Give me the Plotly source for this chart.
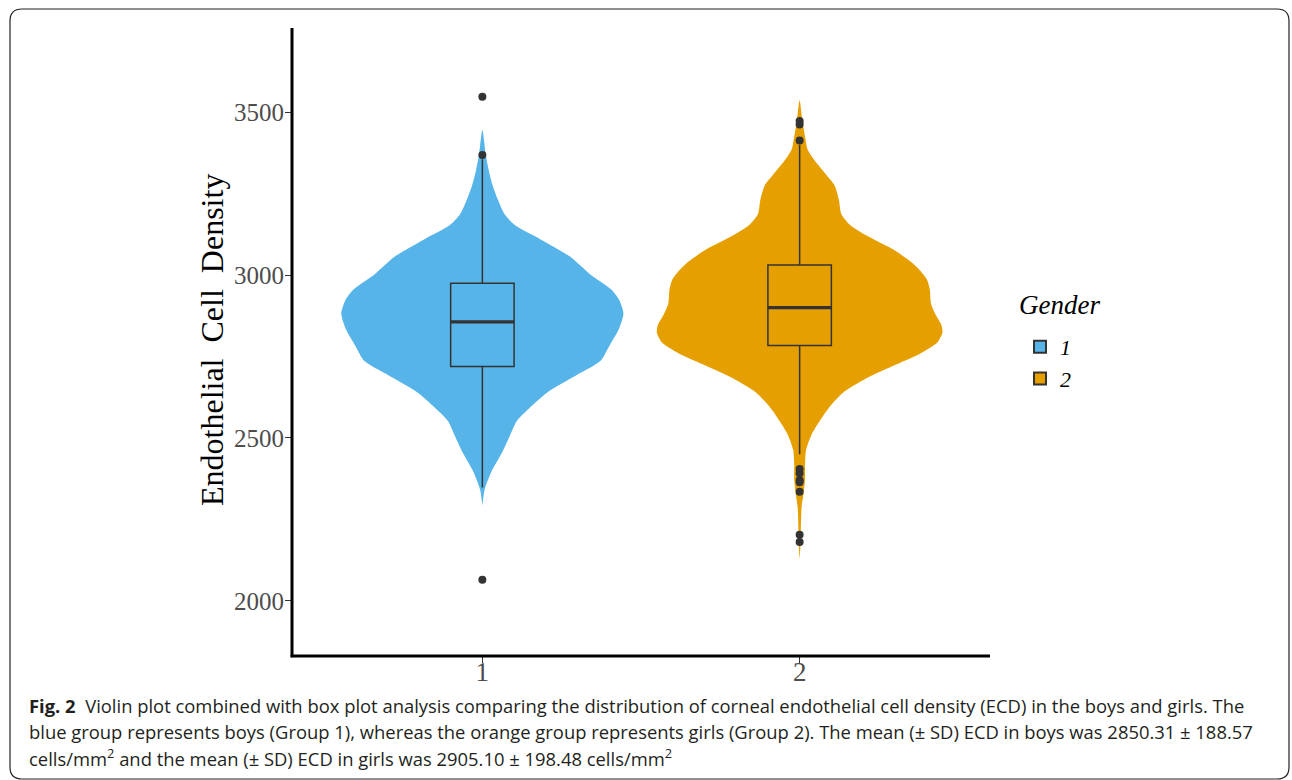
import plotly.graph_objects as go

# ---- data -------------------------------------------------------------
categories = ["1", "2"]
group_colors = ["#56B4E9", "#E69F00"]

# kernel-density outline per group: ECD levels and relative density (0..1)
violin1_levels = [3445, 3420, 3368, 3320, 3275, 3230, 3187, 3154, 3110, 3056, 3001,
                  2957, 2924, 2882, 2836, 2781, 2737, 2694, 2639, 2584, 2551, 2507,
                  2452, 2397, 2342, 2293]
violin1_density = [0.0, 0.01, 0.024, 0.045, 0.072, 0.11, 0.155, 0.225, 0.405, 0.616, 0.758,
                   0.899, 0.958, 0.988, 0.958, 0.887, 0.828, 0.664, 0.452, 0.311, 0.24, 0.193,
                   0.134, 0.064, 0.016, 0.0]

violin2_levels = [3536, 3473, 3420, 3385, 3352, 3308, 3275, 3231, 3187, 3154, 3121, 3078,
                  3034, 2990, 2957, 2913, 2880, 2847, 2823, 2792, 2759, 2726, 2683,
                  2639, 2595, 2551, 2507, 2463, 2419, 2375, 2331, 2288, 2233, 2178, 2128]
violin2_density = [0.0, 0.019, 0.04, 0.056, 0.104, 0.186, 0.245, 0.275, 0.292, 0.351, 0.468,
                   0.656, 0.798, 0.887, 0.911, 0.92, 0.951, 0.993, 1.0, 0.962, 0.845, 0.68,
                   0.468, 0.304, 0.209, 0.139, 0.08, 0.045, 0.038, 0.038, 0.028, 0.014,
                   0.009, 0.007, 0.0]

# box-plot summaries per group
q1 = [2719, 2784]
median = [2856, 2900]
q3 = [2975, 3031]
lower_whisker = [2348, 2450]
upper_whisker = [3355, 3400]

# outlying observations
outliers1 = [3547, 3368, 2065]
outliers2 = [3473, 3462, 3413, 2405, 2392, 2370, 2364, 2335, 2203, 2181]

y_ticks = [2000, 2500, 3000, 3500]

# ---- geometry / style --------------------------------------------------
W, H = 1292, 780
ML, MR, MT, MB = 292, 302, 28, 124
PW, PH = W - ML - MR, H - MT - MB
VIOLIN_HALF = 0.45
BOX_WIDTH = 0.2
LINE_COL = "#333333"
SERIF = "Liberation Serif, Times New Roman, serif"
SANS = "Open Sans, Noto Sans, sans-serif"


def px_x(px):
    return (px - ML) / PW


def px_y(py):
    return (H - MB - py) / PH


violins = [(violin1_levels, violin1_density), (violin2_levels, violin2_density)]
outliers = [outliers1, outliers2]

fig = go.Figure()

for i, cat in enumerate(categories):
    pos = i + 1
    levels, dens = violins[i]
    right_x = [pos + VIOLIN_HALF * d for d in dens]
    left_x = [pos - VIOLIN_HALF * d for d in dens]
    fig.add_trace(go.Scatter(
        x=right_x + left_x[::-1], y=levels + levels[::-1],
        mode="lines", fill="toself", fillcolor=group_colors[i],
        line=dict(width=0, shape="spline", smoothing=0.7),
        hoverinfo="skip", showlegend=False, legendgroup=cat, zorder=0,
    ))

for i, cat in enumerate(categories):
    pos = i + 1
    fig.add_trace(go.Box(
        x=[pos], q1=[q1[i]], median=[median[i]], q3=[q3[i]],
        lowerfence=[lower_whisker[i]], upperfence=[upper_whisker[i]],
        orientation="v", width=BOX_WIDTH, whiskerwidth=0, boxpoints=False,
        fillcolor=group_colors[i], line=dict(color=LINE_COL, width=1.5),
        name=cat, legendgroup=cat, showlegend=True, zorder=1,
    ))
    # heavier median bar
    fig.add_trace(go.Scatter(
        x=[pos - BOX_WIDTH / 2, pos + BOX_WIDTH / 2], y=[median[i], median[i]],
        mode="lines", line=dict(color=LINE_COL, width=3.2),
        hoverinfo="skip", showlegend=False, legendgroup=cat, zorder=2,
    ))
    fig.add_trace(go.Scatter(
        x=[pos] * len(outliers[i]), y=outliers[i], mode="markers",
        marker=dict(color=LINE_COL, size=8),
        hoverinfo="skip", showlegend=False, legendgroup=cat, zorder=2,
    ))

fig.update_xaxes(
    range=[0.4, 2.6], tickvals=[1, 2], ticktext=categories,
    showline=False,
    ticks="outside", ticklen=6, tickwidth=1.2, tickcolor=LINE_COL,
    tickfont=dict(family=SERIF, size=27, color="#4d4d4d"),
    ticklabelstandoff=-14,
    showgrid=False, zeroline=False,
)
fig.update_yaxes(
    range=[1831, 3758], tickvals=y_ticks,
    showline=False,
    ticks="outside", ticklen=6, tickwidth=1.2, tickcolor=LINE_COL,
    tickfont=dict(family=SERIF, size=25, color="#4d4d4d"),
    ticklabelstandoff=-4,
    showgrid=False, zeroline=False,
)

annotations = [
    dict(text="Endothelial  Cell  Density", x=px_x(212), y=px_y(340),
         xref="paper", yref="paper", showarrow=False, textangle=-90,
         font=dict(family=SERIF, size=32, color="black"),
         xanchor="center", yanchor="middle"),
    dict(text="Gender", x=px_x(1017), y=px_y(305), xref="paper", yref="paper",
         showarrow=False, xanchor="left", yanchor="middle",
         font=dict(family=SERIF, size=27, color="black", style="italic")),
]

caption_lines = [
    "<b>Fig. 2</b>  Violin plot combined with box plot analysis comparing the distribution of "
    "corneal endothelial cell density (ECD) in the boys and girls. The",
    "blue group represents boys (Group 1), whereas the orange group represents girls (Group 2). "
    "The mean (± SD) ECD in boys was 2850.31 ± 188.57",
    "cells/mm<sup>2</sup> and the mean (± SD) ECD in girls was 2905.10 ± 198.48 cells/mm<sup>2</sup>",
]
for line, py in zip(caption_lines, [705, 731, 757]):
    annotations.append(dict(
        text=line, x=px_x(27), y=px_y(py), xref="paper", yref="paper",
        showarrow=False, xanchor="left", yanchor="middle", align="left",
        font=dict(family=SANS, size=18.4, color="#231f20"),
    ))

# rounded frame around the figure panel
x0, x1 = px_x(10), px_x(1289)
y0, y1 = px_y(779), px_y(9)
rx, ry = 12 / PW, 12 / PH
frame = (f"M {x0 + rx},{y1} L {x1 - rx},{y1} Q {x1},{y1} {x1},{y1 - ry} "
         f"L {x1},{y0 + ry} Q {x1},{y0} {x1 - rx},{y0} "
         f"L {x0 + rx},{y0} Q {x0},{y0} {x0},{y0 + ry} "
         f"L {x0},{y1 - ry} Q {x0},{y1} {x0 + rx},{y1} Z")

shapes = [
    dict(type="path", path=frame, xref="paper", yref="paper",
         line=dict(color="#222222", width=1.2), layer="below"),
    # axis lines (left and bottom)
    dict(type="line", xref="paper", yref="paper", x0=0, x1=0, y0=-0.002, y1=1,
         line=dict(color="black", width=3), layer="above"),
    dict(type="line", xref="paper", yref="paper", x0=-0.002, x1=1, y0=0, y1=0,
         line=dict(color="black", width=3), layer="above"),
]

fig.update_layout(
    width=W, height=H,
    margin=dict(l=ML, r=MR, t=MT, b=MB),
    paper_bgcolor="white", plot_bgcolor="white",
    annotations=annotations,
    shapes=shapes,
    legend=dict(
        font=dict(family=SERIF, size=22, color="black", style="italic"),
        x=px_x(1020), y=px_y(326), xanchor="left", yanchor="top",
        tracegroupgap=0, itemsizing="constant", bgcolor="rgba(0,0,0,0)",
    ),
    showlegend=True,
)

fig.write_html("out.html")
